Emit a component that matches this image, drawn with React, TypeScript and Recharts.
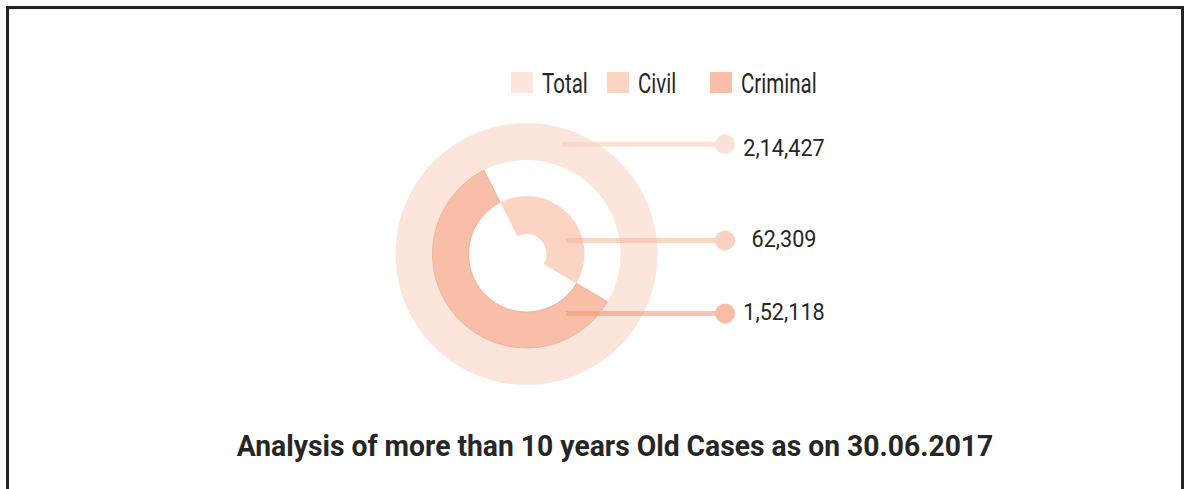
import React from 'react';
import { PieChart, Pie, Cell, Legend } from 'recharts';

const categories = ['Total', 'Civil', 'Criminal'];
const caseCounts = [214427, 62309, 152118];
const valueLabels = ['2,14,427', '62,309', '1,52,118'];
const ringColors = ['#fce6dc', '#fbd4c4', '#f8bea8'];
const dotColors = ['#fce2d6', '#fbd1c0', '#f8bba4'];
const lineColors = ['#f9cdb9', '#f7b79e', '#f29a7a'];

// leader line / label offsets from the pie centre (layout only)
const LABEL_DY = [-109.7, -13.5, 59.5];
const TEXT_DY = [12, 6, 6];
const LINE_START = [35.5, 39.5, 39.5];
const DOT_DX = 198.5;
const TEXT_DX = 257.5;
const LEGEND_X = [502, 598.3, 701];

const CX = 517.5;
const CY = 245;
const START = 117;

const totalData = [{ name: categories[0], value: caseCounts[0], show: true }];
const civilData = [
  { name: categories[1], value: caseCounts[1], show: true },
  { name: 'rest', value: caseCounts[2] - caseCounts[1], show: false },
];
const criminalData = [
  { name: 'gap', value: caseCounts[1], show: false },
  { name: categories[2], value: caseCounts[2] - caseCounts[1], show: true },
];

const makeLabel = (i: number) => (props: any) => {
  const show = props.payload?.show ?? props.show;
  if (!show) return null;
  const { cx, cy } = props;
  const y = cy + LABEL_DY[i];
  return (
    <g>
      <line x1={cx + LINE_START[i]} y1={y} x2={cx + DOT_DX} y2={y} stroke={lineColors[i]} strokeOpacity={0.6} strokeWidth={5} />
      <circle cx={cx + DOT_DX} cy={y} r={10} fill={dotColors[i]} />
      <text
        x={0}
        y={0}
        transform={`translate(${cx + TEXT_DX},${y + TEXT_DY[i]}) scale(0.9,1)`}
        textAnchor="middle"
        fontSize={24}
        fill="#262626"
        fontFamily="Roboto"
      >
        {valueLabels[i]}
      </text>
    </g>
  );
};

const renderLegend = () => (
  <div style={{ position: 'relative', height: 24, fontFamily: 'Roboto', fontSize: 27, lineHeight: '27px', color: '#262626' }}>
    {categories.map((c, i) => (
      <React.Fragment key={c}>
        <div style={{ position: 'absolute', left: LEGEND_X[i], top: 0, width: 21.5, height: 21.5, background: ringColors[i] }} />
        <span
          style={{
            position: 'absolute',
            left: LEGEND_X[i] + 30.5,
            top: -1,
            whiteSpace: 'nowrap',
            transform: 'scaleX(0.76)',
            transformOrigin: 'left center',
          }}
        >
          {c}
        </span>
      </React.Fragment>
    ))}
  </div>
);

export default function App() {
  return (
    <div
      style={{
        position: 'absolute',
        left: 6,
        top: 6,
        width: 1178,
        height: 483,
        boxSizing: 'border-box',
        border: '3px solid #222',
        borderBottom: 'none',
        background: '#fff',
        fontFamily: 'Roboto',
      }}
    >
      <PieChart width={1172} height={480} margin={{ top: 0, right: 0, bottom: 0, left: 0 }}>
        <Legend content={renderLegend} wrapperStyle={{ position: 'absolute', top: 62.7, left: 0, width: 1172 }} />
        <Pie
          data={totalData}
          dataKey="value"
          cx={CX}
          cy={CY}
          innerRadius={94}
          outerRadius={131}
          startAngle={90}
          endAngle={-270}
          stroke="none"
          isAnimationActive={false}
          label={makeLabel(0)}
          labelLine={false}
        >
          {totalData.map((d, i) => (
            <Cell key={i} fill={ringColors[0]} />
          ))}
        </Pie>
        <Pie
          data={civilData}
          dataKey="value"
          cx={CX}
          cy={CY}
          innerRadius={20}
          outerRadius={58}
          startAngle={START}
          endAngle={START - 360}
          stroke="none"
          isAnimationActive={false}
          label={makeLabel(1)}
          labelLine={false}
        >
          {civilData.map((d, i) => (
            <Cell key={i} fill={d.show ? ringColors[1] : 'none'} />
          ))}
        </Pie>
        <Pie
          data={criminalData}
          dataKey="value"
          cx={CX}
          cy={CY}
          innerRadius={58}
          outerRadius={94}
          startAngle={START}
          endAngle={START - 360}
          isAnimationActive={false}
          label={makeLabel(2)}
          labelLine={false}
        >
          {criminalData.map((d, i) => (
            <Cell key={i} fill={d.show ? ringColors[2] : 'none'} stroke={d.show ? '#f4b199' : 'none'} strokeWidth={1} />
          ))}
        </Pie>
      </PieChart>
      <div
        style={{
          position: 'absolute',
          top: 419.8,
          left: 106,
          width: 1000,
          textAlign: 'center',
          fontSize: 29,
          lineHeight: '34px',
          fontWeight: 700,
          color: '#262626',
          transform: 'scaleX(0.975)',
        }}
      >
        Analysis of more than 10 years Old Cases as on 30.06.2017
      </div>
    </div>
  );
}
